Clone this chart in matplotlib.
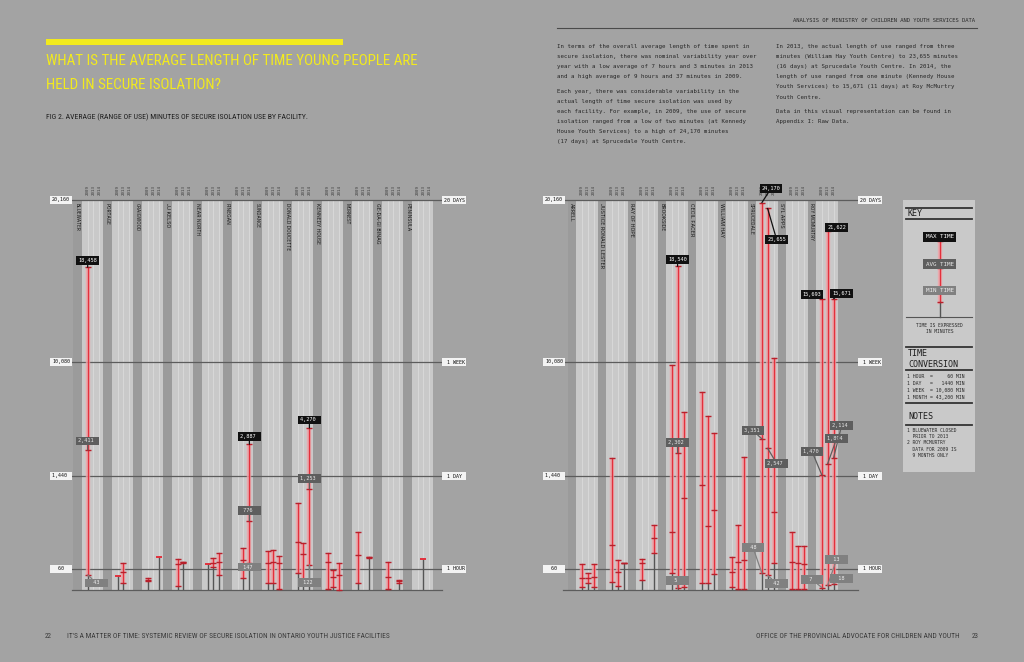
import numpy as np
import matplotlib.pyplot as plt
from matplotlib import font_manager
from matplotlib.font_manager import FontProperties

W, H = 1024, 662
PAGE = '#a3a3a3'
DARK = '#9b9b9b'
LIGHT = '#c9c9c9'
SLOTLINE = '#d7d7d7'
GRID = '#5c5c5c'
RED = '#e2303c'
HALO = '#f0a3a8'
STEM = '#555555'
YELLOW = '#f2ea1d'
MONO = 'DejaVu Sans Mono'

years = ['2009', '2013', '2014']

left_names = ['BLUEWATER', 'PORTAGE', 'CRAIGWOOD', 'JJ KELSO', 'NEAR NORTH', 'FINEGAN',
              'SUNDANCE', 'DONALD DOUCETTE', 'KENNEDY HOUSE', 'MORNEST', 'GE-DA-GI BINAG', 'PENINSULA']
# minutes per year (2009, 2013, 2014); None = no data
left_min = [[43, None, None], [40, 20, None], [27, None, 242], [12, 155, None], [134, 94, 43],
            [None, 34, 147], [20, 20, 3], [48, 21, 122], [2, 10, 1], [20, None, 225],
            [4, None, 20], [None, 205, None]]
left_avg = [[2411, None, None], [40, 52, None], [30, None, 242], [134, 158, None], [134, 154, 168],
            [None, 194, 776], [149, 162, 149], [465, 283, 1253], [168, 38, 43], [268, None, 232],
            [38, None, 25], [None, 205, None]]
left_max = [[18458, None, None], [40, 150, None], [33, None, 242], [208, 162, None], [134, 219, 293],
            [None, 372, 2887], [327, 342, 257], [1035, 441, 4270], [302, 58, 144], [604, None, 238],
            [168, None, 29], [None, 205, None]]

right_names = ['ARRELL', 'JUSTICE RONALD LESTER', 'RAY OF HOPE', 'BROOKSIDE', 'CECIL FACER',
               'WILLIAM HAY', 'SPRUCEDALE', 'SYL APPS', 'ROY MCMURTRY']
right_min = [[8, 21, 10], [24, 12, 150], [29, None, 293], [48, 5, 10], [20, 20, 45],
             [8, 3, 4], [48, 42, 150], [3, 4, 4], [7, 13, 18]]
right_avg = [[33, 35, 38], [416, 52, 152], [144, None, 515], [612, 2302, 1118], [1306, 698, 935],
             [52, 168, 194], [3351, 2547, 900], [168, 144, 134], [1470, 1894, 2114]]
right_max = [[130, 48, 130], [2090, 194, 154], [205, None, 713], [9800, 18540, 5700], [7400, 5326, 3870],
             [234, 713, 2150], [24170, 23655, 10400], [604, 406, 406], [15693, 21622, 15671]]

grid_vals = [60, 1440, 10080, 24400]
grid_left = ['60', '1,440', '10,080', '20,160']
grid_right = ['1 HOUR', '1 DAY', '1 WEEK', '20 DAYS']

# callouts: facility, year index, value kind, label offset in pixels
left_callouts = [(0, 0, 'max', 0, 7), (0, 0, 'avg', 0, 9), (0, 0, 'min', 9, -8),
                 (5, 2, 'max', 0, 8), (5, 2, 'avg', 0, 10), (5, 2, 'min', 0, -4),
                 (7, 2, 'max', 0, 8), (7, 2, 'avg', 0, 10), (7, 2, 'min', 0, -18)]
right_callouts = [(3, 1, 'max', 0, 7), (3, 1, 'avg', 0, 10), (3, 1, 'min', 0, 8),
                  (6, 0, 'max', 9, 14), (6, 1, 'max', 9, -31), (6, 0, 'avg', -9, 8),
                  (6, 1, 'avg', 9, -15), (6, 0, 'min', -9, 26), (6, 1, 'min', 9, -8),
                  (8, 0, 'max', -10, 4), (8, 1, 'max', 9, 4), (8, 2, 'max', 8, 5),
                  (8, 0, 'avg', -10, 24), (8, 1, 'avg', 9, 25), (8, 2, 'avg', 8, 32),
                  (8, 0, 'min', -10, 8), (8, 1, 'min', 9, 26), (8, 2, 'min', 8, 5)]

BOX = {'max': ('#111111', '#ffffff'), 'avg': ('#5e5e5e', '#e6e6e6'), 'min': ('#808080', '#ececec')}

# piecewise scale of the infographic
SCALE_V = [-1000, 0, 60, 1440, 2400, 4270, 10080, 24400, 40000]
SCALE_P = [-350, 0, 21, 114, 140, 162, 228, 390, 566.5]
SLOT = [0.48, 0.67, 0.87]


def fwd(v):
    return np.interp(v, SCALE_V, SCALE_P)


def inv(p):
    return np.interp(p, SCALE_P, SCALE_V)


def narrow_font():
    # look for an installed condensed sans face, else plain DejaVu Sans
    wanted = ['Liberation Sans Narrow', 'Roboto Condensed', 'Open Sans Condensed', 'DejaVu Sans']
    for name in wanted:
        for f in font_manager.fontManager.ttflist:
            if f.name == name and f.style == 'normal' and f.weight in (400, 'normal', 'regular') \
                    and (name != 'DejaVu Sans' or 'ondensed' in f.fname):
                return FontProperties(fname=f.fname)
    for f in font_manager.fontManager.ttflist:
        if f.stretch in ('condensed', 'semi-condensed') and f.style == 'normal':
            return FontProperties(fname=f.fname)
    return FontProperties(family='DejaVu Sans')


NARROW = narrow_font()

fig = plt.figure(figsize=(W / 100, H / 100), dpi=100, facecolor=PAGE)


def ftext(x, y, s, **kw):
    return fig.text(x / W, 1 - y / H, s, **kw)


def px_axes(x0, y0, x1, y1):
    return fig.add_axes([x0 / W, 1 - y1 / H, (x1 - x0) / W, (y1 - y0) / H])


def draw_panel(ax, names, mins, avgs, maxs, callouts, xlim, lx, rx):
    ax.set_facecolor(PAGE)
    ax.set_yscale('function', functions=(fwd, inv))
    ax.set_ylim(0, 24400)
    ax.set_xlim(*xlim)
    for s in ax.spines.values():
        s.set_visible(False)
    ax.set_xticks([])
    ax.set_yticks([])
    labels = []
    for i, name in enumerate(names):
        ax.axvspan(i, i + 0.28, color=DARK, lw=0, zorder=0)
        ax.axvspan(i + 0.28, i + 1, color=LIGHT, lw=0, zorder=0)
        for k, yr in enumerate(years):
            x = i + SLOT[k]
            ax.axvline(x, color=SLOTLINE, lw=0.8, zorder=0.5)
            ax.annotate(yr, xy=(x, 1), xycoords=('data', 'axes fraction'), xytext=(0, 10),
                        textcoords='offset pixels', rotation=90, ha='center', va='center',
                        fontsize=3, family=MONO, color='#3a3a3a', annotation_clip=False)
        t = ax.annotate(name, xy=(i + 0.14, 1), xycoords=('data', 'axes fraction'), xytext=(0, -3),
                        textcoords='offset pixels', rotation=270, ha='center', va='top',
                        fontproperties=NARROW, fontsize=4.6, color='#262626')
        labels.append((t, len(name)))
    for v in [0] + grid_vals:
        ax.axhline(v, color=GRID, lw=0.9, zorder=1, clip_on=False)
    for v, l, r in zip(grid_vals, grid_left, grid_right):
        ax.annotate(l.center(6), xy=(0, v), xycoords=('axes fraction', 'data'), xytext=(lx, 0),
                    textcoords='offset pixels', ha='center', va='center', fontsize=3.6,
                    family=MONO, color='#111111', annotation_clip=False,
                    bbox=dict(boxstyle='square,pad=0.35', fc='#f3f3f3', ec='none'))
        ax.annotate(r.center(7), xy=(1, v), xycoords=('axes fraction', 'data'), xytext=(rx, 0),
                    textcoords='offset pixels', ha='center', va='center', fontsize=3.6,
                    family=MONO, color='#111111', annotation_clip=False,
                    bbox=dict(boxstyle='square,pad=0.35', fc='#f3f3f3', ec='none'))
    for i in range(len(names)):
        for k in range(3):
            mn, av, mx = mins[i][k], avgs[i][k], maxs[i][k]
            if mn is None:
                continue
            x = i + SLOT[k]
            ax.plot([x, x], [0, mn], color=STEM, lw=1, zorder=2, solid_capstyle='butt')
            if mx > mn:
                ax.plot([x, x], [mn, mx], color=HALO, lw=3.2, alpha=0.8, zorder=2,
                        solid_capstyle='butt', clip_on=False)
                ax.plot([x, x], [mn, mx], color=RED, lw=1.0, zorder=3, clip_on=False)
                ax.plot([x] * 3, [mn, av, mx], ls='none', marker='_', ms=4, mew=1,
                        color='#b8202b', zorder=4, clip_on=False)
            else:
                ax.plot([x], [mx], ls='none', marker='_', ms=4, mew=1.4, color=RED, zorder=4)
    vals = {'min': mins, 'avg': avgs, 'max': maxs}
    for i, k, kind, dx, dy in callouts:
        v = vals[kind][i][k]
        fc, tc = BOX[kind]
        ax.annotate(f'{v:,}'.center(6), xy=(i + SLOT[k], v), xytext=(dx, dy),
                    textcoords='offset pixels', ha='center', va='center', fontsize=3.8,
                    family=MONO, color=tc, zorder=6, annotation_clip=False,
                    bbox=dict(boxstyle='square,pad=0.35', fc=fc, ec='none'),
                    arrowprops=dict(arrowstyle='-', color=fc, lw=0.9, shrinkA=0, shrinkB=0))
    return labels


axL = px_axes(72, 200, 442, 590)
labL = draw_panel(axL, left_names, left_min, left_avg, left_max, left_callouts,
                  ((72 - 73.3) / 30, (442 - 73.3) / 30), -11, 12)
axR = px_axes(563, 200, 858, 590)
labR = draw_panel(axR, right_names, right_min, right_avg, right_max, right_callouts,
                  ((563 - 567.5) / 30, (858 - 567.5) / 30), -9, 12)

# title block
fig.add_artist(plt.Rectangle((46 / W, 1 - 45 / H), 297 / W, 5.5 / H, transform=fig.transFigure,
                             color=YELLOW, lw=0))
t1 = ftext(46, 61, 'WHAT IS THE AVERAGE LENGTH OF TIME YOUNG PEOPLE ARE', fontproperties=NARROW,
           fontsize=10.5, color=YELLOW, va='center')
t2 = ftext(46, 85, 'HELD IN SECURE ISOLATION?', fontproperties=NARROW, fontsize=10.5,
           color=YELLOW, va='center')
t3 = ftext(46, 117, 'FIG 2. AVERAGE (RANGE OF USE) MINUTES OF SECURE ISOLATION USE BY FACILITY.',
           fontproperties=NARROW, fontsize=6, color='#1e1e1e', va='center')

# header right
ftext(975, 20, 'ANALYSIS OF MINISTRY OF CHILDREN AND YOUTH SERVICES DATA', fontsize=4,
      family=MONO, color='#2a2a2a', ha='right', va='center')
fig.add_artist(plt.Line2D([557 / W, 977 / W], [1 - 27.5 / H, 1 - 27.5 / H], color='#4a4a4a', lw=0.8))

para1 = ('In terms of the overall average length of time spent in\n'
         'secure isolation, there was nominal variability year over\n'
         'year with a low average of 7 hours and 3 minutes in 2013\n'
         'and a high average of 9 hours and 37 minutes in 2009.')
para2 = ('Each year, there was considerable variability in the\n'
         'actual length of time secure isolation was used by\n'
         'each facility. For example, in 2009, the use of secure\n'
         'isolation ranged from a low of two minutes (at Kennedy\n'
         'House Youth Services) to a high of 24,170 minutes\n'
         '(17 days) at Sprucedale Youth Centre.')
para3 = ('In 2013, the actual length of use ranged from three\n'
         'minutes (William Hay Youth Centre) to 23,655 minutes\n'
         '(16 days) at Sprucedale Youth Centre. In 2014, the\n'
         'length of use ranged from one minute (Kennedy House\n'
         'Youth Services) to 15,671 (11 days) at Roy McMurtry\n'
         'Youth Centre.')
para4 = ('Data in this visual representation can be found in\n'
         'Appendix I: Raw Data.')
ptxt = dict(fontsize=4.15, family=MONO, color='#262626', va='top', linespacing=2.28)
ftext(557, 44, para1, **ptxt)
ftext(557, 88.5, para2, **ptxt)
ftext(776, 44, para3, **ptxt)
ftext(776, 108.5, para4, **ptxt)

# key panel
axK = px_axes(903, 200, 975, 472)
axK.set_xlim(903, 975)
axK.set_ylim(472, 200)
axK.set_facecolor('#c9c9c9')
axK.set_xticks([])
axK.set_yticks([])
for s in axK.spines.values():
    s.set_visible(False)
for yy in [207.7, 219, 346.7, 370, 403.3, 425]:
    axK.plot([906, 972], [yy, yy], color='#333333', lw=1.3)
axK.plot([906, 972], [316.7, 316.7], color='#555555', lw=0.8)
axK.text(908, 213.5, 'KEY', fontsize=6, family=MONO, color='#1e1e1e', va='center')
axK.plot([939.5, 939.5], [240, 302], color=HALO, lw=3.2, alpha=0.8)
axK.plot([939.5, 939.5], [240, 302], color=RED, lw=1.0)
axK.plot([939.5, 939.5], [302, 316.7], color=STEM, lw=1)
axK.plot([939.5] * 3, [241, 268, 302], ls='none', marker='_', ms=4, mew=1, color='#b8202b')
for txt, yy, kind in [('MAX TIME', 236.7, 'max'), ('AVG TIME', 264, 'avg'), ('MIN TIME', 290.5, 'min')]:
    fc, tc = BOX[kind]
    axK.text(939.5, yy, txt, fontsize=4.2, family=MONO, color=tc, ha='center', va='center',
             bbox=dict(boxstyle='square,pad=0.4', fc=fc, ec='none'))
axK.text(939.5, 328.5, 'TIME IS EXPRESSED\nIN MINUTES', fontsize=3.3, family=MONO, color='#2a2a2a',
         ha='center', va='center', linespacing=1.4)
axK.text(908, 359, 'TIME\nCONVERSION', fontsize=6, family=MONO, color='#1e1e1e', va='center',
         linespacing=1.15)
axK.text(907, 387, '1 HOUR  =     60 MIN\n1 DAY   =   1440 MIN\n1 WEEK  = 10,080 MIN\n1 MONTH = 43,200 MIN',
         fontsize=3.5, family=MONO, color='#2a2a2a', va='center', linespacing=1.45)
axK.text(908, 416.7, 'NOTES', fontsize=6, family=MONO, color='#1e1e1e', va='center')
axK.text(907, 443, '1 BLUEWATER CLOSED\n  PRIOR TO 2013\n2 ROY MCMURTRY\n  DATA FOR 2009 IS\n  9 MONTHS ONLY',
         fontsize=3.3, family=MONO, color='#2a2a2a', va='center', linespacing=1.3)

# footer
foot = dict(fontproperties=NARROW, fontsize=5, color='#3a3a3a', va='center')
ftext(45, 636, '22', **foot)
f1 = ftext(67, 636, "IT'S A MATTER OF TIME: SYSTEMIC REVIEW OF SECURE ISOLATION IN ONTARIO YOUTH JUSTICE FACILITIES",
           **foot)
f2 = ftext(960, 636, 'OFFICE OF THE PROVINCIAL ADVOCATE FOR CHILDREN AND YOUTH', ha='right', **foot)
ftext(972, 636, '23', **foot)

# shrink the condensed-style texts towards the widths they take in the original
fig.canvas.draw()
rend = fig.canvas.get_renderer()
w1 = t1.get_window_extent(rend).width
t1.set_fontsize(t1.get_fontsize() * 372 / w1)
t2.set_fontsize(t1.get_fontsize())
for t, target in [(t3, 262), (f1, 315), (f2, 200)]:
    w = t.get_window_extent(rend).width
    t.set_fontsize(t.get_fontsize() * target / w)
for t, n in labL + labR:
    h = t.get_window_extent(rend).height
    target = 3.1 * n
    if h > target:
        t.set_fontsize(t.get_fontsize() * target / h)

fig.savefig('out.png', dpi=100, facecolor=PAGE)
